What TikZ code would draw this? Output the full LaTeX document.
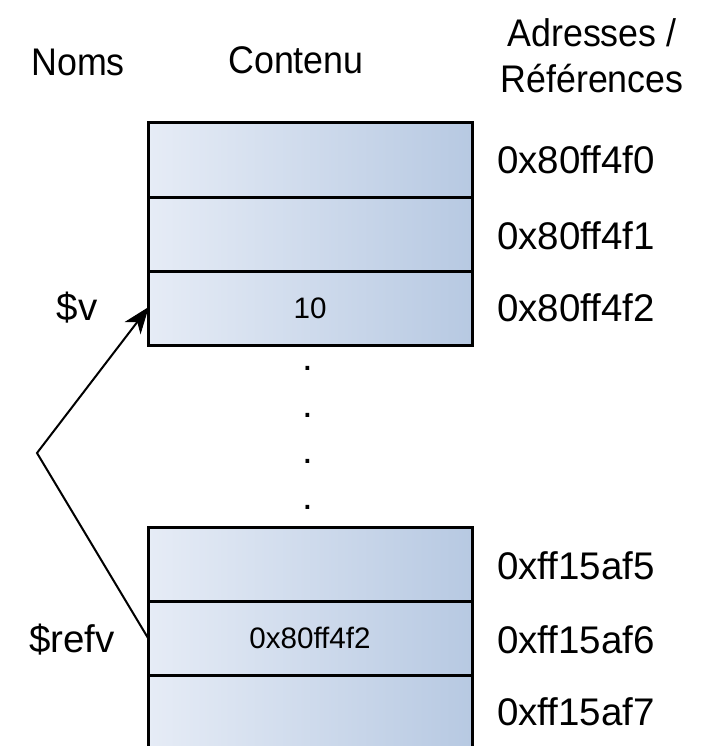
\documentclass[tikz,border=0pt]{standalone}
\usepackage{fontspec}
\setmainfont{Liberation Sans}
\usetikzlibrary{calc}
\definecolor{cellL}{HTML}{E6ECF6}
\definecolor{cellR}{HTML}{B7C9E2}
\tikzset{
  cell/.style={draw=black, line width=3pt, left color=cellL, right color=cellR,
    minimum width=324pt, minimum height=74pt, inner sep=0pt, outer sep=0pt,
    font=\fontsize{29.6}{34}\selectfont},
  lab/.style={font=\fontsize{38.5}{46}\selectfont, inner sep=0pt},
  addr/.style={lab, anchor=west},
  ref/.style={line width=2pt, line join=miter},
  head/.style={fill=black, draw=black, line width=1pt, line join=miter}
}
\begin{document}
\begin{tikzpicture}[x=1pt,y=-1pt]
\useasboundingbox (0,0) rectangle (708,746);
\begin{scope}
\clip (0,0) rectangle (708,746);
% headers
\node[lab, xscale=0.93] (hNoms) at (78,62) {Noms};
\node[lab, xscale=0.93] (hCont) at (296,60) {Contenu};
\node[lab, xscale=0.93, align=center] (hAddr) at (592,56) {Adresses /\\Références};
% top cells
\node[cell] (c1) at (310,160) {};
\node[cell] (c2) at (310,234) {};
\node[cell] (c3) at (310,308) {10};
% bottom cells
\node[cell] (c5) at (310,564) {};
\node[cell] (c6) at (310,638) {0x80ff4f2};
\node[cell] (c7) at (310,712) {};
% addresses
\node[addr] (a1) at (497,160) {0x80ff4f0};
\node[addr] (a2) at (497,236) {0x80ff4f1};
\node[addr] (a3) at (497,308) {0x80ff4f2};
\node[addr] (a5) at (497,566) {0xff15af5};
\node[addr] (a6) at (497,640) {0xff15af6};
\node[addr] (a7) at (497,712) {0xff15af7};
% names
\node[lab] (nv) at (77,308) {\$v};
\node[lab] (nrefv) at (72,640) {\$refv};
% dots
\node[lab] (d1) at (308,368) {.};
\node[lab] (d2) at (308,415) {.};
\node[lab] (d3) at (308,461) {.};
\node[lab] (d4) at (308,507) {.};
% reference arrow
\coordinate (bend) at (37,453);
\coordinate (hb) at ($(c3.west)!24pt!(bend)$);
\coordinate (hi) at ($(c3.west)!17pt!(bend)$);
\draw[ref] (c6.west) -- (bend) -- (hi);
\filldraw[head] (c3.west) -- ($(hb)!9pt!90:(c3.west)$) -- (hi) -- ($(hb)!9pt!-90:(c3.west)$) -- cycle;
\end{scope}
\end{tikzpicture}
\end{document}
